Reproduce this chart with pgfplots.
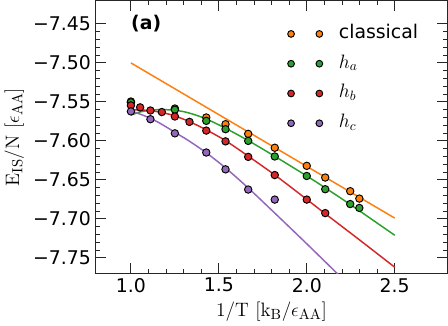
\documentclass[border=0pt]{standalone}
\usepackage[no-math]{fontspec}
\setmainfont{DejaVu Sans}
\usepackage{pgfplots}
\pgfplotsset{compat=1.18}
\definecolor{taborange}{HTML}{FF7F0E}
\definecolor{tabgreen}{HTML}{2CA02C}
\definecolor{tabred}{HTML}{D62728}
\definecolor{tabpurple}{HTML}{9467BD}
\definecolor{frame}{HTML}{262626}

\begin{document}
\begin{tikzpicture}[font=\fontsize{14}{16}\selectfont]
\begin{axis}[
  scale only axis, width=261pt, height=202.5pt,
  xmin=0.8, xmax=2.8, ymin=-7.77, ymax=-7.42,
  xtick={1.0,1.5,2.0,2.5}, xticklabels={1.0,1.5,2.0,2.5},
  ytick={-7.75,-7.70,-7.65,-7.60,-7.55,-7.50,-7.45},
  yticklabels={−7.75,−7.70,−7.65,−7.60,−7.55,−7.50,−7.45},
  minor x tick num=4, minor y tick num=4,
  tick align=inside, xtick pos=both, ytick pos=both,
  major tick length=7.5pt, minor tick length=3.5pt,
  every tick/.style={frame, line width=0.75pt},
  every minor tick/.style={frame, line width=0.6pt},
  axis line style={frame, line width=0.8pt},
  xlabel={$\mathrm{1/T}\ [\mathrm{k_B}/\epsilon_{\mathrm{AA}}]$},
  ylabel={$\mathrm{E_{IS}/N}\ [\epsilon_{\mathrm{AA}}]$},
  label style={font=\fontsize{15}{17}\selectfont},
  legend style={draw=none, fill=none, at={(0.545,0.912)}, anchor=north west,
                inner sep=0pt, row sep=8.6pt, column sep=12pt,
                nodes={inner sep=0pt, text height=10pt, text depth=3.5pt}},
  legend cell align=left,
  legend image code/.code={\draw[#1,only marks,mark size=2.5pt] plot coordinates {(0pt,0pt) (21pt,0pt)};},
  mark size=2.75pt,
]
% fitted curves
\addplot[taborange, line width=1.1pt, forget plot] coordinates {(1.0,-7.500) (2.5,-7.699)};
\addplot[tabgreen, line width=1.1pt, smooth, forget plot] coordinates {
  (1.0,-7.567) (1.05,-7.563) (1.1,-7.561) (1.15,-7.5600) (1.2,-7.5600) (1.25,-7.5607)
  (1.3,-7.5625) (1.35,-7.5655) (1.43,-7.572) (1.54,-7.584) (1.67,-7.600) (1.82,-7.620)
  (2.0,-7.645) (2.1,-7.6595) (2.25,-7.682) (2.5,-7.721)};
\addplot[tabred, line width=1.1pt, smooth, forget plot] coordinates {
  (1.0,-7.560) (1.05,-7.5603) (1.1,-7.561) (1.15,-7.5625) (1.2,-7.5648) (1.25,-7.568)
  (1.33,-7.575) (1.43,-7.586) (1.54,-7.600) (1.67,-7.620) (1.82,-7.644) (2.0,-7.675)
  (2.1,-7.6925) (2.3,-7.727) (2.5,-7.762)};
\addplot[tabpurple, line width=1.1pt, smooth, forget plot] coordinates {
  (1.0,-7.562) (1.05,-7.5655) (1.1,-7.570) (1.15,-7.5755) (1.2,-7.582) (1.25,-7.589)
  (1.33,-7.600) (1.43,-7.6155) (1.54,-7.635) (1.67,-7.661) (1.82,-7.693) (2.0,-7.732)
  (2.2,-7.776) (2.25,-7.787)};
% simulation points
\addplot[only marks, mark=*, mark options={fill=taborange, draw=black, line width=0.7pt}] coordinates {
  (1.0,-7.5495) (1.25,-7.5585) (1.4286,-7.570) (1.538,-7.5786) (1.667,-7.591) (1.818,-7.6088)
  (2.0,-7.632) (2.105,-7.647) (2.247,-7.6645) (2.299,-7.674)};
\addlegendentry{classical}
\addplot[only marks, mark=*, mark options={fill=tabgreen, draw=black, line width=0.7pt}] coordinates {
  (1.0,-7.5506) (1.25,-7.560) (1.4286,-7.5743) (1.538,-7.585) (1.667,-7.600) (1.818,-7.620)
  (2.0,-7.645) (2.105,-7.662) (2.247,-7.681) (2.299,-7.686)};
\addlegendentry{$h_a$}
\addplot[only marks, mark=*, mark options={fill=tabred, draw=black, line width=0.7pt}] coordinates {
  (1.0,-7.5545) (1.0526,-7.557) (1.111,-7.561) (1.176,-7.563) (1.25,-7.5687) (1.333,-7.5756)
  (1.4286,-7.5868) (1.538,-7.6006) (1.667,-7.6205) (1.818,-7.6438) (2.0,-7.6753) (2.105,-7.6926)};
\addlegendentry{$h_b$}
\addplot[only marks, mark=*, mark options={fill=tabpurple, draw=black, line width=0.7pt}] coordinates {
  (1.0,-7.5622) (1.111,-7.5722) (1.25,-7.5903) (1.4286,-7.6149) (1.538,-7.6365) (1.667,-7.6624)
  (1.818,-7.6753)};
\addlegendentry{$h_c$}
\node[anchor=west, font=\fontsize{14}{16}\selectfont\bfseries, inner sep=0pt] at (axis cs:1.0,-7.45) {(a)};
\end{axis}
\end{tikzpicture}
\end{document}
